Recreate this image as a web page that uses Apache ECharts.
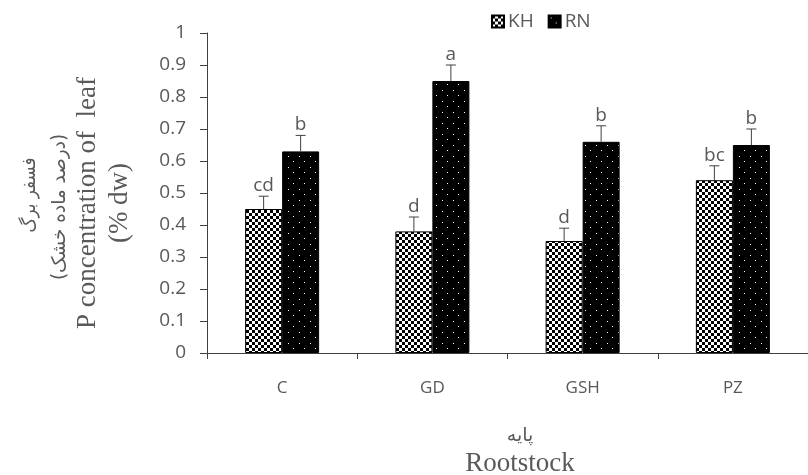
<!DOCTYPE html>
<html>
<head>
    <meta charset="utf-8">
    <title>P concentration of leaf</title>
    <script src="https://cdn.jsdelivr.net/npm/echarts@6/dist/echarts.min.js"></script>
</head>
<body style="margin:0">
<div id="main" style="width: 808px;height:475px;"></div>
<script type="text/javascript">
    // data
    var categories = ['C', 'GD', 'GSH', 'PZ'];
    var khValues = [0.45, 0.38, 0.35, 0.54];
    var rnValues = [0.63, 0.85, 0.66, 0.65];
    var khErrors = [0.04, 0.045, 0.04, 0.045];
    var rnErrors = [0.05, 0.05, 0.05, 0.05];
    var khLetters = ['cd', 'd', 'd', 'bc'];
    var rnLetters = ['b', 'a', 'b', 'b'];

    // fill patterns
    function checkerPattern() {
        var c = document.createElement('canvas');
        c.width = 6; c.height = 6;
        var ctx = c.getContext('2d');
        ctx.fillStyle = '#fff';
        ctx.fillRect(0, 0, 6, 6);
        ctx.fillStyle = '#000';
        ctx.fillRect(0, 0, 3, 3);
        ctx.fillRect(3, 3, 3, 3);
        return c;
    }
    function dotPattern() {
        var c = document.createElement('canvas');
        c.width = 11; c.height = 11;
        var ctx = c.getContext('2d');
        ctx.fillStyle = '#000';
        ctx.fillRect(0, 0, 11, 11);
        ctx.fillStyle = '#fff';
        ctx.fillRect(2, 2, 1, 1);
        ctx.fillRect(7, 7, 1, 1);
        return c;
    }

    var tickColor = '#595959';
    var barW = 37;

    // error bar + letter, side: -1 for KH, +1 for RN
    function errorSeries(name, values, errors, letters, side) {
        var data = values.map(function (v, i) { return [i, v, errors[i]]; });
        return {
            name: name + '_err',
            type: 'custom',
            z: 5,
            data: data,
            renderItem: function (params, api) {
                var i = api.value(0);
                var base = api.coord([i, api.value(1)]);
                var top = api.coord([i, api.value(1) + api.value(2)]);
                var x = base[0] + side * barW / 2;
                return {
                    type: 'group',
                    children: [
                        { type: 'line', shape: { x1: x, y1: base[1], x2: x, y2: top[1] },
                          style: { stroke: '#404040', lineWidth: 1 } },
                        { type: 'line', shape: { x1: x - 5, y1: top[1], x2: x + 5, y2: top[1] },
                          style: { stroke: '#404040', lineWidth: 1 } },
                        { type: 'text', x: x, y: top[1] - 1,
                          style: { text: letters[i], fill: tickColor, font: '19px "Open Sans"',
                                   align: 'center', verticalAlign: 'bottom' } }
                    ]
                };
            }
        };
    }

    var myChart = echarts.init(document.getElementById('main'));
    var option = {
        animation: false,
        legend: {
            data: ['KH', 'RN'],
            left: 486,
            top: 7,
            itemWidth: 12,
            itemHeight: 12,
            itemGap: 14,
            icon: 'rect',
            textStyle: { color: tickColor, fontSize: 19, fontFamily: 'Open Sans', padding: [0, 0, 0, -1] }
        },
        grid: { left: 207, width: 611, top: 33, height: 320 },
        xAxis: {
            type: 'category',
            data: categories,
            axisLine: { lineStyle: { color: '#404040' } },
            axisTick: { show: true, length: 6, lineStyle: { color: '#404040' } },
            axisLabel: { color: tickColor, fontSize: 17, fontFamily: 'Open Sans', margin: 27 }
        },
        yAxis: {
            type: 'value',
            min: 0,
            max: 1,
            interval: 0.1,
            splitLine: { show: false },
            axisLine: { show: true, lineStyle: { color: '#404040' } },
            axisTick: { show: true, length: 7, lineStyle: { color: '#404040' } },
            axisLabel: { color: tickColor, fontSize: 19, fontFamily: 'Open Sans', margin: 21 }
        },
        series: [
            {
                name: 'KH',
                type: 'bar',
                data: khValues,
                barWidth: barW,
                barGap: '0%',
                itemStyle: { color: { image: checkerPattern(), repeat: 'repeat' }, borderColor: '#000', borderWidth: 1 }
            },
            {
                name: 'RN',
                type: 'bar',
                data: rnValues,
                barWidth: barW,
                barGap: '0%',
                itemStyle: { color: { image: dotPattern(), repeat: 'repeat' }, borderColor: '#000', borderWidth: 1 }
            },
            errorSeries('KH', khValues, khErrors, khLetters, -1),
            errorSeries('RN', rnValues, rnErrors, rnLetters, 1)
        ],
        graphic: [
            { type: 'text', x: 30, y: 195, rotation: Math.PI / 2, scaleX: 0.88,
              style: { text: 'فسفر برگ', fill: tickColor, font: '19px "DejaVu Sans"', align: 'center', verticalAlign: 'middle' } },
            { type: 'text', x: 60, y: 207, rotation: Math.PI / 2, scaleX: 0.97,
              style: { text: '(درصد ماده خشک)', fill: tickColor, font: '19px "DejaVu Sans"', align: 'center', verticalAlign: 'middle' } },
            { type: 'text', x: 88, y: 203, rotation: Math.PI / 2,
              style: { text: 'P concentration of  leaf', fill: tickColor, font: '27px "Liberation Serif"', align: 'center', verticalAlign: 'middle' } },
            { type: 'text', x: 120, y: 203, rotation: Math.PI / 2,
              style: { text: '(% dw)', fill: tickColor, font: '27px "Liberation Serif"', align: 'center', verticalAlign: 'middle' } },
            { type: 'text', x: 520, y: 436,
              style: { text: 'پایه', fill: tickColor, font: '19px "DejaVu Sans"', align: 'center', verticalAlign: 'middle' } },
            { type: 'text', x: 520, y: 464,
              style: { text: 'Rootstock', fill: tickColor, font: '27px "Liberation Serif"', align: 'center', verticalAlign: 'middle' } }
        ]
    };
    myChart.setOption(option);
</script>
</body>
</html>
